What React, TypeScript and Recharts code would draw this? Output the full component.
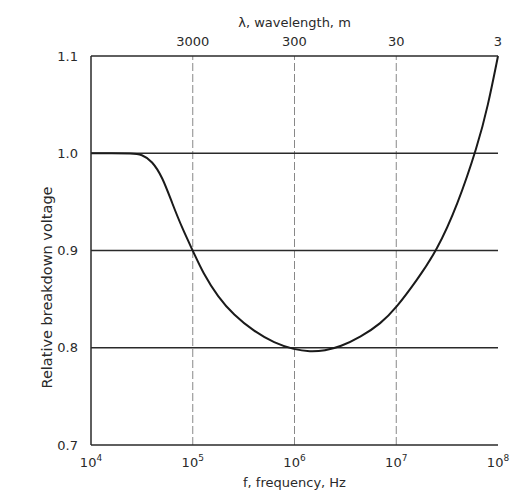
import React from "react"
import {
  LineChart,
  Line,
  XAxis,
  YAxis,
  ReferenceLine,
} from "recharts"

// log10 of frequency (Hz) and relative breakdown voltage
const logFreq = [4.0, 4.2, 4.4, 4.5, 4.6, 4.7, 4.8, 4.9, 5.0, 5.1, 5.25, 5.4, 5.6, 5.8, 6.0, 6.15, 6.3, 6.45, 6.65, 6.85, 7.0, 7.2, 7.4, 7.6, 7.8, 7.9, 8.0]
const voltage = [1.0, 1.0, 1.0, 0.999, 0.992, 0.976, 0.948, 0.922, 0.9, 0.877, 0.852, 0.834, 0.817, 0.805, 0.798, 0.796, 0.797, 0.801, 0.811, 0.825, 0.841, 0.869, 0.9, 0.946, 1.008, 1.048, 1.1]

const freqTicks = [4, 5, 6, 7, 8]
const wavelengthTicks = [5, 6, 7, 8]
const wavelengthLabels = ["3000", "300", "30", "3"]
const voltageTicks = [0.7, 0.8, 0.9, 1.0, 1.1]
const gridFreq = [5, 6, 7]
const gridVolt = [0.8, 0.9, 1.0]

const data = logFreq.map((f, i) => ({ f, v: voltage[i] }))

const FONT = "'DejaVu Sans', Verdana, sans-serif"
const INK = "#2a2a2a"

function PowerTick({ x, y, payload }: any) {
  return (
    <text x={x} y={y + 14} textAnchor="middle" fontFamily={FONT} fontSize={13} fill={INK}>
      <tspan>10</tspan>
      <tspan dy={-6} fontSize={9}>{payload.value}</tspan>
    </text>
  )
}

export default function App() {
  return (
    <div style={{ position: "absolute", left: 0, top: 0, width: 517, height: 495, background: "#fff" }}>
      <LineChart
        width={517}
        height={495}
        data={data}
        margin={{ top: 26, right: 19, bottom: 20, left: 51 }}
      >
        <XAxis
          xAxisId="bottom"
          dataKey="f"
          type="number"
          domain={[4, 8]}
          ticks={freqTicks}
          tick={<PowerTick />}
          tickLine={false}
          axisLine={{ stroke: INK, strokeWidth: 1.5 }}
          height={30}
          label={{
            value: "f, frequency, Hz",
            position: "insideBottom",
            offset: -12,
            fill: INK,
            fontSize: 13,
            fontFamily: FONT,
          }}
        />
        <XAxis
          xAxisId="top"
          orientation="top"
          dataKey="f"
          type="number"
          domain={[4, 8]}
          ticks={wavelengthTicks}
          tickFormatter={(v: number) => wavelengthLabels[wavelengthTicks.indexOf(v)]}
          tick={{ fill: INK, fontSize: 13, fontFamily: FONT }}
          tickLine={false}
          tickMargin={4}
          axisLine={{ stroke: INK, strokeWidth: 1.5 }}
          height={30}
          label={{
            value: "λ, wavelength, m",
            position: "insideTop",
            offset: -8,
            fill: INK,
            fontSize: 13,
            fontFamily: FONT,
          }}
        />
        <YAxis
          yAxisId="left"
          type="number"
          domain={[0.7, 1.1]}
          ticks={voltageTicks}
          tickFormatter={(v: number) => v.toFixed(1)}
          tick={{ fill: INK, fontSize: 13, fontFamily: FONT }}
          tickLine={false}
          tickMargin={7}
          axisLine={{ stroke: INK, strokeWidth: 1.5 }}
          width={40}
          label={{
            value: "Relative breakdown voltage",
            angle: -90,
            position: "insideLeft",
            offset: -4,
            dy: 37,
            fill: INK,
            fontSize: 14.5,
            fontFamily: FONT,
            style: { textAnchor: "middle" },
          }}
        />
        <YAxis
          yAxisId="right"
          orientation="right"
          type="number"
          domain={[0.7, 1.1]}
          tick={false}
          tickLine={false}
          axisLine={{ stroke: INK, strokeWidth: 1.5 }}
          width={0}
        />
        {gridFreq.map((f) => (
          <ReferenceLine
            key={`vf${f}`}
            x={f}
            xAxisId="bottom"
            yAxisId="left"
            stroke="#888"
            strokeWidth={1}
            strokeDasharray="8 3"
          />
        ))}
        {gridVolt.map((v) => (
          <ReferenceLine
            key={`hv${v}`}
            y={v}
            xAxisId="bottom"
            yAxisId="left"
            stroke={INK}
            strokeWidth={1.5}
          />
        ))}
        <Line
          xAxisId="bottom"
          yAxisId="left"
          type="basis"
          dataKey="v"
          stroke="#1a1a1a"
          strokeWidth={2}
          dot={false}
          isAnimationActive={false}
        />
      </LineChart>
    </div>
  )
}
